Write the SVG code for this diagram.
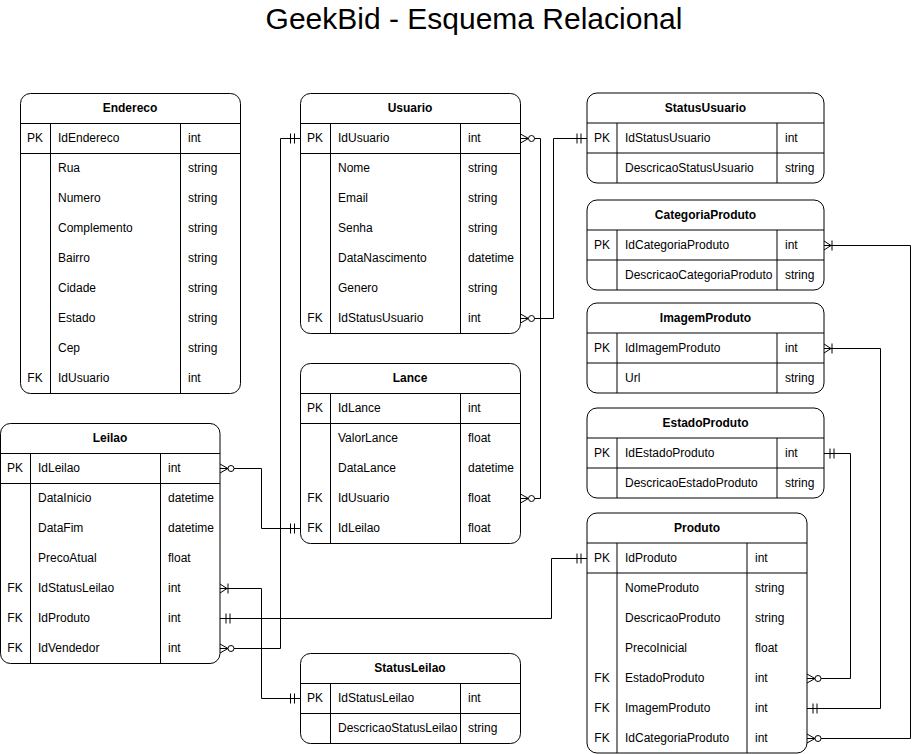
<svg xmlns="http://www.w3.org/2000/svg" width="921" height="754" viewBox="0 0 921 754">
<style>
.tb{fill:#fff;stroke:#000;stroke-width:1}
.ln{stroke:#000;stroke-width:1;fill:none}
.h{font-family:"Liberation Sans",Arial,sans-serif;font-size:12px;font-weight:bold;text-anchor:middle;fill:#000}
.t{font-family:"Liberation Sans",Arial,sans-serif;font-size:12px;fill:#000}
.k{text-anchor:middle}
.title{font-family:"Liberation Sans",Arial,sans-serif;font-size:30px;text-anchor:middle;fill:#000}
.cn{stroke:#000;stroke-width:1;fill:none}
.mk{stroke:#000;stroke-width:1;fill:none}
</style>
<defs>
<marker id="zm" markerUnits="userSpaceOnUse" markerWidth="20" markerHeight="14" refX="0" refY="0" orient="auto-start-reverse" overflow="visible">
<path class="mk" d="M0,-4.5 L-8,0 L0,4.5 M0,0 L-8,0"/>
<circle cx="-11" cy="0" r="3" fill="#fff" stroke="#000" stroke-width="1"/>
</marker>
<marker id="om" markerUnits="userSpaceOnUse" markerWidth="20" markerHeight="14" refX="0" refY="0" orient="auto-start-reverse" overflow="visible">
<path class="mk" d="M0,-4.5 L-7,0 L0,4.5 M0,0 L-7,0 M-8,-5 L-8,5"/>
</marker>
<marker id="mo" markerUnits="userSpaceOnUse" markerWidth="20" markerHeight="14" refX="0" refY="0" orient="auto-start-reverse" overflow="visible">
<path class="mk" d="M-6,-5 L-6,5 M-10,-5 L-10,5"/>
</marker>
</defs>
<rect width="921" height="754" fill="#fff"/>
<text class="title" x="474" y="29">GeekBid - Esquema Relacional</text>

<g id="connectors">
<path class="cn" d="M520.5,138.5 H540.5 V498.5 H520.5" marker-start="url(#zm)" marker-end="url(#zm)"/>
<path class="cn" d="M520.5,318.5 H553.5 V138.5 H587" marker-start="url(#zm)" marker-end="url(#mo)"/>
<path class="cn" d="M300.5,138.5 H280.5 V648.5 H220" marker-start="url(#mo)" marker-end="url(#zm)"/>
<path class="cn" d="M220,468.5 H261.5 V528.5 H300.5" marker-start="url(#zm)" marker-end="url(#mo)"/>
<path class="cn" d="M220,588.5 H261.5 V698.5 H300.5" marker-start="url(#om)" marker-end="url(#mo)"/>
<path class="cn" d="M220,618.5 H551.5 V558.5 H587" marker-start="url(#mo)" marker-end="url(#mo)"/>
<path class="cn" d="M807,678.5 H850.5 V453.5 H824" marker-start="url(#zm)" marker-end="url(#mo)"/>
<path class="cn" d="M807,708.5 H880.5 V348.5 H824" marker-start="url(#mo)" marker-end="url(#om)"/>
<path class="cn" d="M807,738.5 H910.5 V245.5 H824" marker-start="url(#zm)" marker-end="url(#om)"/>
</g>

<g id="Endereco">
<rect class="tb" x="20.5" y="93.5" width="220" height="300" rx="10"/>
<path class="ln" d="M20.5,123.5 H240.5 M20.5,153.5 H240.5 M50.5,123.5 V393.5 M180.5,123.5 V393.5"/>
<text class="h" x="130" y="112">Endereco</text>
<text class="t k" x="35" y="142">PK</text><text class="t" x="58" y="142">IdEndereco</text><text class="t" x="188" y="142">int</text>
<text class="t" x="58" y="172">Rua</text><text class="t" x="188" y="172">string</text>
<text class="t" x="58" y="202">Numero</text><text class="t" x="188" y="202">string</text>
<text class="t" x="58" y="232">Complemento</text><text class="t" x="188" y="232">string</text>
<text class="t" x="58" y="262">Bairro</text><text class="t" x="188" y="262">string</text>
<text class="t" x="58" y="292">Cidade</text><text class="t" x="188" y="292">string</text>
<text class="t" x="58" y="322">Estado</text><text class="t" x="188" y="322">string</text>
<text class="t" x="58" y="352">Cep</text><text class="t" x="188" y="352">string</text>
<text class="t k" x="35" y="382">FK</text><text class="t" x="58" y="382">IdUsuario</text><text class="t" x="188" y="382">int</text>
</g>

<g id="Usuario">
<rect class="tb" x="300.5" y="93.5" width="220" height="240" rx="10"/>
<path class="ln" d="M300.5,123.5 H520.5 M300.5,153.5 H520.5 M330.5,123.5 V333.5 M460.5,123.5 V333.5"/>
<text class="h" x="410" y="112">Usuario</text>
<text class="t k" x="315" y="142">PK</text><text class="t" x="338" y="142">IdUsuario</text><text class="t" x="468" y="142">int</text>
<text class="t" x="338" y="172">Nome</text><text class="t" x="468" y="172">string</text>
<text class="t" x="338" y="202">Email</text><text class="t" x="468" y="202">string</text>
<text class="t" x="338" y="232">Senha</text><text class="t" x="468" y="232">string</text>
<text class="t" x="338" y="262">DataNascimento</text><text class="t" x="468" y="262">datetime</text>
<text class="t" x="338" y="292">Genero</text><text class="t" x="468" y="292">string</text>
<text class="t k" x="315" y="322">FK</text><text class="t" x="338" y="322">IdStatusUsuario</text><text class="t" x="468" y="322">int</text>
</g>

<g id="Lance">
<rect class="tb" x="300.5" y="363.5" width="220" height="180" rx="10"/>
<path class="ln" d="M300.5,393.5 H520.5 M300.5,423.5 H520.5 M330.5,393.5 V543.5 M460.5,393.5 V543.5"/>
<text class="h" x="410" y="382">Lance</text>
<text class="t k" x="315" y="412">PK</text><text class="t" x="338" y="412">IdLance</text><text class="t" x="468" y="412">int</text>
<text class="t" x="338" y="442">ValorLance</text><text class="t" x="468" y="442">float</text>
<text class="t" x="338" y="472">DataLance</text><text class="t" x="468" y="472">datetime</text>
<text class="t k" x="315" y="502">FK</text><text class="t" x="338" y="502">IdUsuario</text><text class="t" x="468" y="502">float</text>
<text class="t k" x="315" y="532">FK</text><text class="t" x="338" y="532">IdLeilao</text><text class="t" x="468" y="532">float</text>
</g>

<g id="Leilao">
<rect class="tb" x="0.5" y="423.5" width="219.5" height="240" rx="10"/>
<path class="ln" d="M0.5,453.5 H220 M0.5,483.5 H220 M30.5,453.5 V663.5 M160.5,453.5 V663.5"/>
<text class="h" x="110" y="442">Leilao</text>
<text class="t k" x="15" y="472">PK</text><text class="t" x="38" y="472">IdLeilao</text><text class="t" x="168" y="472">int</text>
<text class="t" x="38" y="502">DataInicio</text><text class="t" x="168" y="502">datetime</text>
<text class="t" x="38" y="532">DataFim</text><text class="t" x="168" y="532">datetime</text>
<text class="t" x="38" y="562">PrecoAtual</text><text class="t" x="168" y="562">float</text>
<text class="t k" x="15" y="592">FK</text><text class="t" x="38" y="592">IdStatusLeilao</text><text class="t" x="168" y="592">int</text>
<text class="t k" x="15" y="622">FK</text><text class="t" x="38" y="622">IdProduto</text><text class="t" x="168" y="622">int</text>
<text class="t k" x="15" y="652">FK</text><text class="t" x="38" y="652">IdVendedor</text><text class="t" x="168" y="652">int</text>
</g>

<g id="StatusLeilao">
<rect class="tb" x="300.5" y="653.5" width="220" height="90" rx="10"/>
<path class="ln" d="M300.5,683.5 H520.5 M300.5,713.5 H520.5 M330.5,683.5 V743.5 M460.5,683.5 V743.5"/>
<text class="h" x="410" y="672">StatusLeilao</text>
<text class="t k" x="315" y="702">PK</text><text class="t" x="338" y="702">IdStatusLeilao</text><text class="t" x="468" y="702">int</text>
<text class="t" x="338" y="732">DescricaoStatusLeilao</text><text class="t" x="468" y="732">string</text>
</g>

<g id="StatusUsuario">
<rect class="tb" x="587" y="93" width="237" height="90" rx="10"/>
<path class="ln" d="M587,123 H824 M587,153 H824 M617,123 V183 M777,123 V183"/>
<text class="h" x="705.5" y="112">StatusUsuario</text>
<text class="t k" x="602" y="142">PK</text><text class="t" x="625" y="142">IdStatusUsuario</text><text class="t" x="785" y="142">int</text>
<text class="t" x="625" y="172">DescricaoStatusUsuario</text><text class="t" x="785" y="172">string</text>
</g>

<g id="CategoriaProduto">
<rect class="tb" x="587" y="200" width="237" height="90" rx="10"/>
<path class="ln" d="M587,230 H824 M587,260 H824 M617,230 V290 M777,230 V290"/>
<text class="h" x="705.5" y="219">CategoriaProduto</text>
<text class="t k" x="602" y="249">PK</text><text class="t" x="625" y="249">IdCategoriaProduto</text><text class="t" x="785" y="249">int</text>
<text class="t" x="625" y="279">DescricaoCategoriaProduto</text><text class="t" x="785" y="279">string</text>
</g>

<g id="ImagemProduto">
<rect class="tb" x="587" y="303" width="237" height="90" rx="10"/>
<path class="ln" d="M587,333 H824 M587,363 H824 M617,333 V393 M777,333 V393"/>
<text class="h" x="705.5" y="322">ImagemProduto</text>
<text class="t k" x="602" y="352">PK</text><text class="t" x="625" y="352">IdImagemProduto</text><text class="t" x="785" y="352">int</text>
<text class="t" x="625" y="382">Url</text><text class="t" x="785" y="382">string</text>
</g>

<g id="EstadoProduto">
<rect class="tb" x="587" y="408" width="237" height="90" rx="10"/>
<path class="ln" d="M587,438 H824 M587,468 H824 M617,438 V498 M777,438 V498"/>
<text class="h" x="705.5" y="427">EstadoProduto</text>
<text class="t k" x="602" y="457">PK</text><text class="t" x="625" y="457">IdEstadoProduto</text><text class="t" x="785" y="457">int</text>
<text class="t" x="625" y="487">DescricaoEstadoProduto</text><text class="t" x="785" y="487">string</text>
</g>

<g id="Produto">
<rect class="tb" x="587" y="513" width="220" height="240" rx="10"/>
<path class="ln" d="M587,543 H807 M587,573 H807 M617,543 V753 M747,543 V753"/>
<text class="h" x="697" y="532">Produto</text>
<text class="t k" x="602" y="562">PK</text><text class="t" x="625" y="562">IdProduto</text><text class="t" x="755" y="562">int</text>
<text class="t" x="625" y="592">NomeProduto</text><text class="t" x="755" y="592">string</text>
<text class="t" x="625" y="622">DescricaoProduto</text><text class="t" x="755" y="622">string</text>
<text class="t" x="625" y="652">PrecoInicial</text><text class="t" x="755" y="652">float</text>
<text class="t k" x="602" y="682">FK</text><text class="t" x="625" y="682">EstadoProduto</text><text class="t" x="755" y="682">int</text>
<text class="t k" x="602" y="712">FK</text><text class="t" x="625" y="712">ImagemProduto</text><text class="t" x="755" y="712">int</text>
<text class="t k" x="602" y="742">FK</text><text class="t" x="625" y="742">IdCategoriaProduto</text><text class="t" x="755" y="742">int</text>
</g>
</svg>
